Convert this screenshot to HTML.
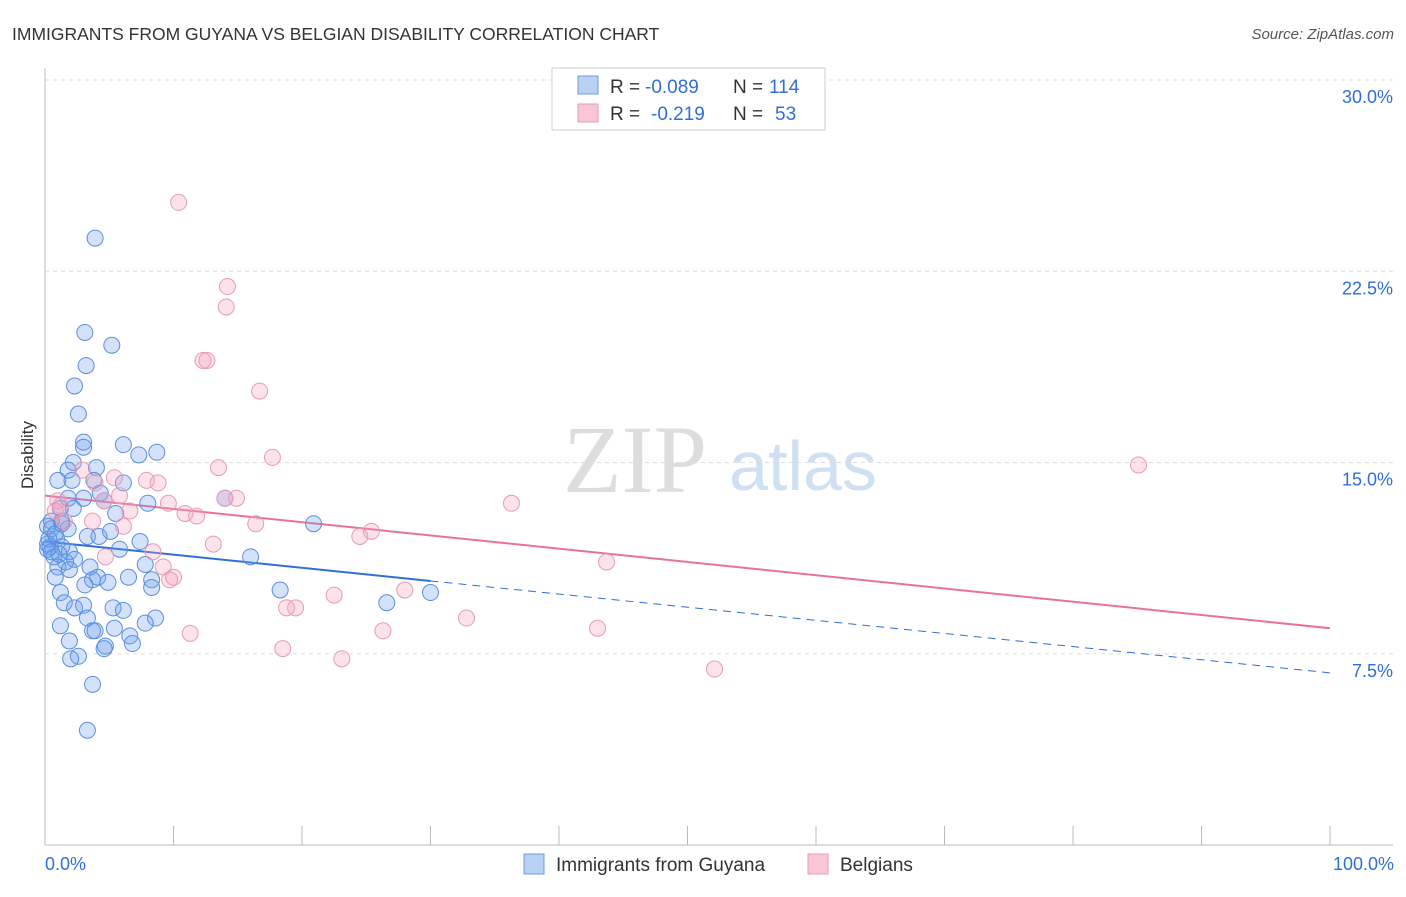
<!DOCTYPE html>
<html><head><meta charset="utf-8"><style>
body{margin:0;background:#fff;font-family:"Liberation Sans",sans-serif;}
</style></head><body>
<svg id="chart" width="1406" height="892" xmlns="http://www.w3.org/2000/svg" font-family="Liberation Sans, sans-serif">
<text x="12" y="40" font-size="17.5" fill="#333">IMMIGRANTS FROM GUYANA VS BELGIAN DISABILITY CORRELATION CHART</text>
<text x="1394" y="39" font-size="15" fill="#555" font-style="italic" text-anchor="end">Source: ZipAtlas.com</text>
<text x="33" y="455" font-size="17" fill="#333" text-anchor="middle" transform="rotate(-90 33 455)">Disability</text>
<text x="635" y="492" font-size="96" fill="#ddd" font-family="Liberation Serif, serif" text-anchor="middle">ZIP</text>
<text x="803" y="490" font-size="70" fill="#cfe0f3" text-anchor="middle">atlas</text>
<g id="grid"></g><g id="ticks"></g><g id="trend"></g><g id="pts"></g>
<g>
<rect x="552" y="68" width="273" height="62" fill="#fff" stroke="#ccc"/>
<rect x="578" y="76" width="20" height="18" fill="#b8d1f3" stroke="#6a9be0"/>
<rect x="578" y="104" width="20" height="18" fill="#f9c6d6" stroke="#e79bb5"/>
<text x="610" y="93" font-size="19" fill="#333">R =</text>
<text x="645" y="93" font-size="19" fill="#2f6fd6">-0.089</text>
<text x="733" y="93" font-size="19" fill="#333">N =</text>
<text x="769" y="93" font-size="19" fill="#2f6fd6">114</text>
<text x="610" y="120" font-size="19" fill="#333">R =</text>
<text x="651" y="120" font-size="19" fill="#2f6fd6">-0.219</text>
<text x="733" y="120" font-size="19" fill="#333">N =</text>
<text x="775" y="120" font-size="19" fill="#2f6fd6">53</text>
</g>
<g>
<rect x="524" y="854" width="20" height="20" fill="#b8d1f3" stroke="#6a9be0"/>
<text x="556" y="871" font-size="19" fill="#333">Immigrants from Guyana</text>
<rect x="808" y="854" width="20" height="20" fill="#f9c6d6" stroke="#e79bb5"/>
<text x="840" y="871" font-size="19" fill="#333">Belgians</text>
</g>
<text x="45" y="870" font-size="18" fill="#2f6fd6">0.0%</text>
<text x="1394" y="870" font-size="18" fill="#2f6fd6" text-anchor="end">100.0%</text>
</svg>
<script>
const yTicks=[7.5,15,22.5,30];
const yTickLabels=["7.5%","15.0%","22.5%","30.0%"];
const xTicks=[0,10,20,30,40,50,60,70,80,90,100];
const blueX=[3.9,3.1,5.2,3.2,2.3,2.6,3.0,3.0,6.1,8.7,7.3,2.2,1.8,4.0,1.0,2.1,3.8,6.1,1.8,3.0,4.3,4.6,8.0,14.0,1.2,2.2,5.5,20.9,0.5,1.3,0.5,1.8,3.3,4.2,5.1,0.9,0.4,1.3,1.9,5.8,7.4,16.0,0.7,1.6,2.3,1.0,1.9,3.5,7.8,0.8,6.5,8.3,3.7,4.1,4.9,3.1,1.2,8.3,18.3,30.0,1.5,2.3,3.0,5.3,6.1,26.6,3.3,8.6,7.8,1.2,3.7,3.9,5.4,1.9,6.6,6.8,4.7,4.6,2.6,2.0,3.7,3.3,0.2,0.2,0.3,0.8,0.2,0.5,1.1,1.3];
const blueY=[23.8,20.1,19.6,18.8,18.0,16.9,15.8,15.6,15.7,15.4,15.3,15.0,14.7,14.8,14.3,14.3,14.3,14.2,13.6,13.6,13.8,13.5,13.4,13.6,13.2,13.2,13.0,12.6,12.7,12.6,12.4,12.4,12.1,12.1,12.3,12.0,11.7,11.7,11.5,11.6,11.9,11.3,11.3,11.1,11.2,10.9,10.8,10.9,11.0,10.5,10.5,10.4,10.4,10.5,10.3,10.2,9.9,10.1,10.0,9.9,9.5,9.3,9.4,9.3,9.2,9.5,8.9,8.9,8.7,8.6,8.4,8.4,8.5,8.0,8.2,7.9,7.8,7.7,7.4,7.3,6.3,4.5,12.5,11.8,12.0,12.2,11.6,11.5,11.4,12.7];
const pinkX=[10.4,14.2,14.1,12.3,12.6,16.7,17.7,13.5,85.1,2.9,5.4,7.9,8.8,3.9,14.0,14.9,5.8,4.6,9.6,1.0,6.6,36.3,10.9,11.8,3.7,16.4,6.1,25.4,24.5,13.1,8.4,4.7,43.7,9.2,10.0,9.7,22.5,28.0,19.5,18.8,32.8,43.0,26.3,11.3,18.5,23.1,52.1,1.2,0.8,1.5];
const pinkY=[25.2,21.9,21.1,19.0,19.0,17.8,15.2,14.8,14.9,14.7,14.4,14.3,14.2,14.2,13.6,13.6,13.7,13.5,13.4,13.5,13.1,13.4,13.0,12.9,12.7,12.6,12.5,12.3,12.1,11.8,11.5,11.3,11.1,10.9,10.5,10.4,9.8,10.0,9.3,9.3,8.9,8.5,8.4,8.3,7.7,7.3,6.9,13.3,13.1,12.7];
const blueTrend=[11.9,6.75];
const pinkTrend=[13.7,8.5];
const X=v=>45+v*12.85, Y=v=>845-v*25.5;
const NS="http://www.w3.org/2000/svg";
function mk(p,tag,at){const e=document.createElementNS(NS,tag);for(const k in at)e.setAttribute(k,at[k]);p.appendChild(e);return e;}
const grid=document.getElementById('grid'),ticks=document.getElementById('ticks'),trend=document.getElementById('trend'),pts=document.getElementById('pts');
mk(grid,'line',{x1:45,y1:68,x2:45,y2:845,stroke:'#bbb'});
mk(grid,'line',{x1:45,y1:845,x2:1393,y2:845,stroke:'#bbb'});
yTicks.forEach((t,i)=>{
 const l=mk(grid,'line',{x1:45,y1:Y(t),x2:1393,y2:Y(t),stroke:'#ddd','stroke-dasharray':'4 4'});
 
 
 const tx=mk(ticks,'text',{x:1393,y:Y(t)+23,'font-size':18,fill:'#2f6fd6','text-anchor':'end'});
 tx.textContent=yTickLabels[i];
 
 
});
xTicks.forEach(t=>{
 const l=mk(ticks,'line',{x1:X(t),y1:826,x2:X(t),y2:845,stroke:'#bbb'});
 
 
});
function dot(x,y,fill,stroke,name){
 const c=mk(pts,'circle',{cx:X(x),cy:Y(y),r:8,fill:fill,stroke:stroke,'stroke-width':1});
 
 
}
blueX.forEach((x,i)=>dot(x,blueY[i],'rgba(110,160,235,0.3)','#5a8fe0','guyana-point'));
pinkX.forEach((x,i)=>dot(x,pinkY[i],'rgba(245,160,190,0.3)','#e79bb5','belgians-point'));
const by=x=>blueTrend[0]+(blueTrend[1]-blueTrend[0])*x/100;
const py=x=>pinkTrend[0]+(pinkTrend[1]-pinkTrend[0])*x/100;
let t1=mk(trend,'line',{x1:X(0),y1:Y(by(0)),x2:X(30),y2:Y(by(30)),stroke:'#2f6fd6','stroke-width':2});


let t2=mk(trend,'line',{x1:X(30),y1:Y(by(30)),x2:X(100),y2:Y(by(100)),stroke:'#2f6fd6','stroke-width':1,'stroke-dasharray':'8 6'});


let t3=mk(trend,'line',{x1:X(0),y1:Y(py(0)),x2:X(100),y2:Y(py(100)),stroke:'#e8719b','stroke-width':2});


</script>
</body></html>
